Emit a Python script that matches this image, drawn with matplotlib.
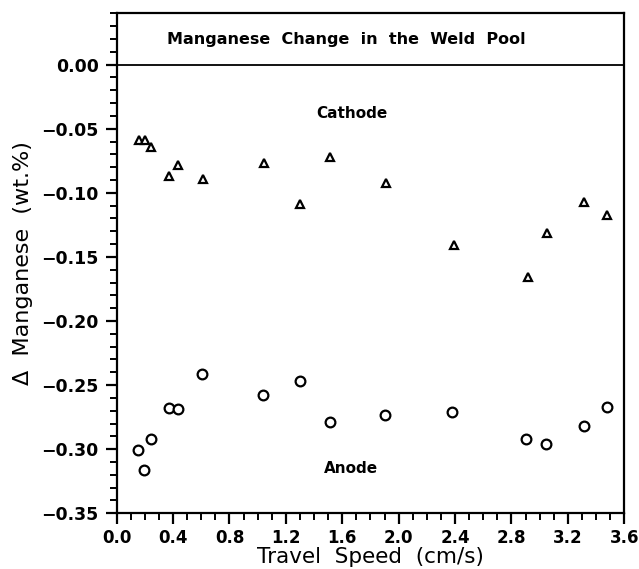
import matplotlib
matplotlib.use("Agg")
import matplotlib.pyplot as plt
from matplotlib.ticker import MultipleLocator, FuncFormatter

# Cathode data (triangles)
cathode_speed = [0.156, 0.199, 0.245, 0.371, 0.435, 0.610, 1.045, 1.300, 1.515,
                 1.910, 2.390, 2.920, 3.050, 3.316, 3.477]
cathode_mn = [-0.059, -0.059, -0.064, -0.087, -0.078, -0.089, -0.077, -0.109, -0.072,
              -0.092, -0.141, -0.166, -0.131, -0.107, -0.117]

# Anode data (circles)
anode_speed = [0.149, 0.196, 0.241, 0.369, 0.435, 0.607, 1.040, 1.298, 1.511,
               1.905, 2.376, 2.905, 3.045, 3.314, 3.477]
anode_mn = [-0.301, -0.316, -0.292, -0.268, -0.269, -0.241, -0.258, -0.247, -0.279,
            -0.273, -0.271, -0.292, -0.296, -0.282, -0.267]

title_text = "Manganese  Change  in  the  Weld  Pool"
xlabel_text = "Travel  Speed  (cm/s)"
ylabel_text = "\u0394  Manganese  (wt.%)"

fig = plt.figure(figsize=(6.39, 5.69), dpi=100)
ax = fig.add_axes([0.1826, 0.0979, 0.7944, 0.8787])

ax.plot(cathode_speed, cathode_mn, linestyle="none", marker="^", markersize=6,
        markerfacecolor="white", markeredgecolor="black", markeredgewidth=1.6)
ax.plot(anode_speed, anode_mn, linestyle="none", marker="o", markersize=7,
        markerfacecolor="white", markeredgecolor="black", markeredgewidth=1.6)

ax.axhline(0.0, color="black", linewidth=1.3)

ax.set_xlim(0.0, 3.6)
ax.set_ylim(-0.35, 0.04)
ax.xaxis.set_major_locator(MultipleLocator(0.4))
ax.xaxis.set_minor_locator(MultipleLocator(0.1))
ax.yaxis.set_major_locator(MultipleLocator(0.05))
ax.yaxis.set_minor_locator(MultipleLocator(0.01))
ax.xaxis.set_major_formatter(FuncFormatter(lambda v, p: f"{v:.1f}".replace("-", "\u2212")))
ax.yaxis.set_major_formatter(FuncFormatter(
    lambda v, p: ("0.00" if abs(v) < 1e-9 else f"{v:.2f}".replace("-", "\u2212"))))

ax.tick_params(which="major", direction="out", length=8, width=1.6)
ax.tick_params(axis="x", which="major", labelsize=12, pad=3)
ax.tick_params(axis="y", which="major", labelsize=12.5, pad=5)
ax.tick_params(which="minor", direction="out", length=5, width=1.4)
ax.tick_params(top=False, right=False, which="both")
for lbl in ax.get_xticklabels() + ax.get_yticklabels():
    lbl.set_fontweight("bold")

for s in ax.spines.values():
    s.set_linewidth(1.6)

ax.text(1.625, 0.0195, title_text, ha="center", va="center", fontsize=11.5, fontweight="bold")
ax.text(1.67, -0.0385, "Cathode", ha="center", va="center", fontsize=11, fontweight="bold")
ax.text(1.66, -0.315, "Anode", ha="center", va="center", fontsize=11, fontweight="bold")

ax.set_xlabel(xlabel_text, fontsize=15.5, fontweight="medium", labelpad=0)
ax.set_ylabel(ylabel_text, fontsize=16, fontweight="medium", labelpad=6)

fig.savefig("out.png", dpi=100)
